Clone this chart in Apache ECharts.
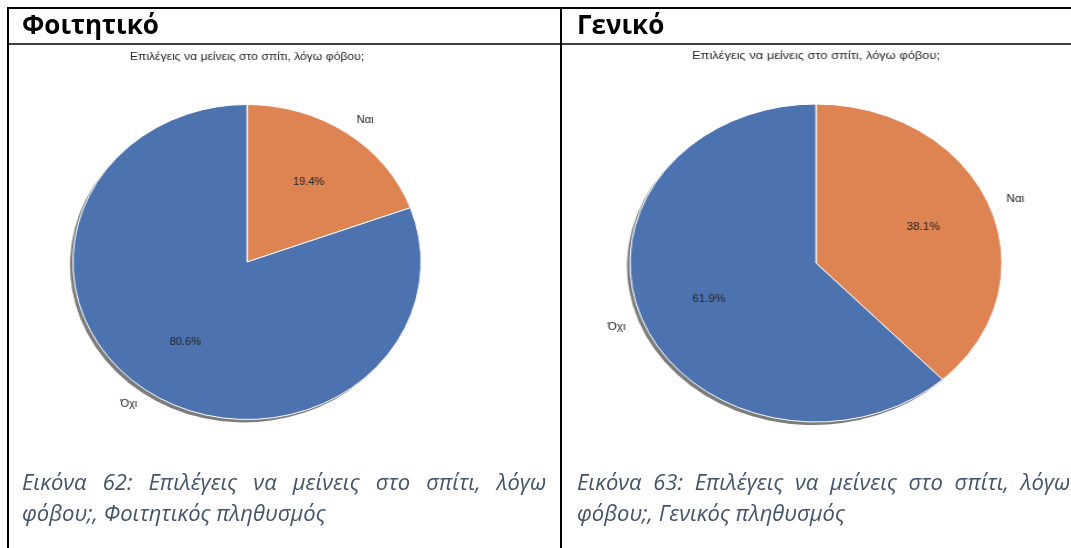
<!DOCTYPE html>
<html>
<head>
<meta charset="utf-8">
<script src="https://cdn.jsdelivr.net/npm/echarts@6/dist/echarts.min.js"></script>
<style>
  html, body { margin: 0; padding: 0; background: #ffffff; }
  #page { position: relative; width: 1071px; height: 548px; overflow: hidden; }
  #frame { position: absolute; left: 0; top: 0; width: 1071px; height: 548px; }
  .pie { position: absolute; width: 400px; height: 440px; transform-origin: 50% 50%; }
</style>
</head>
<body>
<div id="page">
  <div id="frame"></div>
  <div id="pieStudent" class="pie"></div>
  <div id="pieGeneral" class="pie"></div>
</div>
<script>
// Survey answers, percentages per population
const categories = ['Ναι', 'Όχι'];
const studentValues = [19.4, 80.6];
const generalValues = [38.1, 61.9];
const chartTitle = 'Επιλέγεις να μείνεις στο σπίτι, λόγω φόβου;';
const headers = ['Φοιτητικό', 'Γενικό'];
const captions = [
  ['Εικόνα 62: Επιλέγεις να μείνεις στο σπίτι, λόγω', 'φόβου;, Φοιτητικός πληθυσμός'],
  ['Εικόνα 63: Επιλέγεις να μείνεις στο σπίτι, λόγω', 'φόβου;, Γενικός πληθυσμός']
];

const palette = ['#DD8452', '#4C72B0'];
const labelFont = '"Liberation Sans", Arial, sans-serif';

// Each pie sits in its own box, stretched horizontally like the exported figure
const pieBoxes = [
  { id: 'pieStudent', cx: 246.5, cy: 261.5, r: 157.5, sx: 1.105, values: studentValues, titleTop: 4 },
  { id: 'pieGeneral', cx: 816, cy: 263, r: 159, sx: 1.17, values: generalValues, titleTop: 2 }
];

function pieOption(box) {
  const data = categories.map((c, i) => ({ name: c, value: box.values[i] }));
  const center = [200, 220];
  return {
    animation: false,
    color: palette,
    title: {
      text: chartTitle, left: 'center', top: box.titleTop,
      textStyle: { fontFamily: labelFont, fontSize: 11, fontWeight: 'normal', color: '#262626' }
    },
    series: [
      { // drop shadow under the pie
        type: 'pie', silent: true, z: 1,
        center: [center[0] - 3 / box.sx, center[1] + 3], radius: box.r,
        startAngle: 90, clockwise: true, data: data,
        itemStyle: { color: '#7c7c7c' },
        label: { show: false }, labelLine: { show: false }
      },
      { // slices with category names outside
        type: 'pie', silent: true, z: 2,
        center: center, radius: box.r,
        startAngle: 90, clockwise: true, data: data,
        avoidLabelOverlap: false,
        itemStyle: { borderColor: '#ffffff', borderWidth: 1 },
        label: {
          show: true, position: 'outside', formatter: '{b}',
          fontFamily: labelFont, fontSize: 10, color: '#1a1a1a',
          distanceToLabelLine: 0
        },
        labelLine: { show: false, length: box.r * 0.1, length2: 0 }
      },
      { // percentage labels at 0.6 of the radius
        type: 'pie', silent: true, z: 3,
        center: center, radius: box.r * 1.2,
        startAngle: 90, clockwise: true, data: data,
        percentPrecision: 1,
        itemStyle: { color: 'rgba(0,0,0,0)' },
        label: {
          show: true, position: 'inside', formatter: '{d}%',
          fontFamily: labelFont, fontSize: 10, color: '#262626'
        },
        labelLine: { show: false }
      }
    ]
  };
}

pieBoxes.forEach(box => {
  const el = document.getElementById(box.id);
  el.style.left = (box.cx - 200) + 'px';
  el.style.top = (box.cy - 220) + 'px';
  el.style.transform = 'scaleX(' + box.sx + ')';
  const chart = echarts.init(el, null, { renderer: 'canvas' });
  chart.setOption(pieOption(box));
});

// Table frame, headers and justified captions
const captionFont = 'italic 22px "Open Sans", "Noto Sans", sans-serif';
const headerFont = 'bold 26px "Open Sans", "Noto Sans", sans-serif';
const measureCtx = document.createElement('canvas').getContext('2d');

function captionText(text, x, y) {
  return { type: 'text', x: x, y: y, style: { text: text, font: captionFont, fill: '#44546A', verticalAlign: 'middle' } };
}

function justifiedLine(text, x0, x1, y) {
  measureCtx.font = captionFont;
  const words = text.split(' ');
  const widths = words.map(w => measureCtx.measureText(w).width);
  const total = widths.reduce((a, b) => a + b, 0);
  const gap = (x1 - x0 - total) / (words.length - 1);
  let x = x0;
  return words.map((w, i) => {
    const el = captionText(w, x, y);
    x += widths[i] + gap;
    return el;
  });
}

function line(x1, y1, x2, y2, w) {
  return { type: 'line', shape: { x1: x1, y1: y1, x2: x2, y2: y2 }, style: { stroke: '#000000', lineWidth: w } };
}

const colX = [22, 577];
const colRight = [546, 1070];
const elements = [
  line(7, 8, 1071, 8, 2),
  line(8, 7, 8, 548, 2),
  line(561, 7, 561, 548, 2),
  line(7, 44, 1071, 44, 1.5)
];
headers.forEach((h, i) => {
  elements.push({ type: 'text', x: colX[i], y: 27, style: { text: h, font: headerFont, fill: '#000000', verticalAlign: 'middle' } });
});
captions.forEach((c, i) => {
  elements.push(...justifiedLine(c[0], colX[i], colRight[i], 484));
  elements.push(captionText(c[1], colX[i], 515));
});

const frame = echarts.init(document.getElementById('frame'), null, { renderer: 'canvas' });
frame.setOption({ animation: false, graphic: { elements: elements } });
</script>
</body>
</html>
